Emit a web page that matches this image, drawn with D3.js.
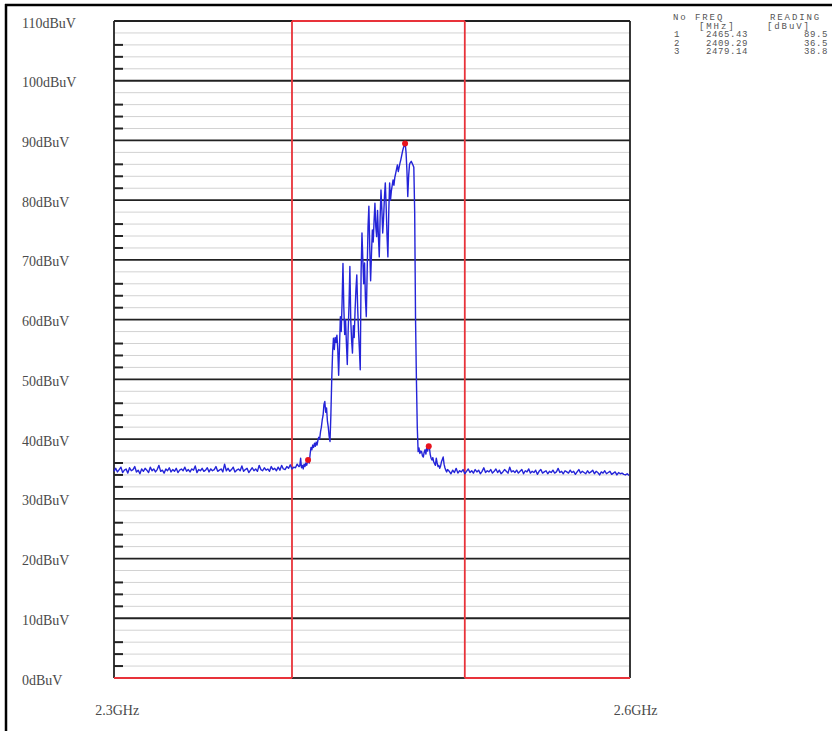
<!DOCTYPE html>
<html>
<head>
<meta charset="utf-8">
<script src="https://cdn.jsdelivr.net/npm/d3@7"></script>
<style>
  body { margin: 0; background: #fff; }
  svg { display: block; }
</style>
</head>
<body>
<div id="container"></div>
<script>
// y axis levels (dBuV) and labels
const levelTicks = [0, 10, 20, 30, 40, 50, 60, 70, 80, 90, 100, 110];
const freqLabels = [[2300, '2.3GHz'], [2600, '2.6GHz']];
// band edges drawn in red (MHz)
const bandEdges = [2400, 2500];

// marker table
const markerNo = [1, 2, 3];
const markerFreq = [2465.43, 2409.29, 2479.14];
const markerReading = [89.5, 36.5, 38.8];

// noise floor left of the burst, 1 MHz steps from 2297 MHz
const leftStart = 2297;
const leftFloor = [
  34.6,35.1,34.5,34.9,35.3,34.4,34.8,35.0,34.3,35.2,34.7,34.9,35.4,34.5,34.8,34.2,35.0,34.6,35.1,34.8,
  34.4,35.3,34.7,35.0,34.5,34.9,35.6,34.6,34.8,34.3,35.0,34.7,35.2,34.5,34.9,34.6,35.1,34.4,34.8,35.0,
  34.7,35.3,34.6,34.9,34.5,35.0,34.8,35.5,34.4,34.9,34.7,35.1,34.6,34.8,35.2,34.5,35.0,34.7,34.9,35.4,
  34.6,34.8,35.0,34.5,35.8,34.7,35.1,34.6,34.9,35.3,34.5,34.8,35.0,34.7,35.5,34.6,34.9,35.1,34.4,34.8,
  35.2,34.7,35.0,34.6,35.6,34.9,34.7,35.2,34.8,35.0,34.6,35.4,34.9,35.1,34.7,35.3,34.8,35.6,35.0,34.9,
  35.4,35.1,35.7,35.0,35.3,35.2,35.8,35.4
];

// the burst itself [MHz, dBuV]
const burst = [
  [2404.5,35.5],[2405,36.8],[2405.5,35.2],[2406,35.6],[2406.5,35.0],[2407,35.8],[2407.5,35.4],[2408,36.0],
  [2408.5,35.6],[2409,36.2],[2409.5,36.5],[2410,36.0],[2410.5,37.5],[2411,38.6],[2411.5,38.2],[2412,39.0],
  [2412.5,38.6],[2413,39.3],[2413.5,38.8],[2414,39.5],[2414.5,39.0],[2415,39.8],[2415.5,40.3],[2416,40.0],
  [2416.5,41.2],[2417,42.0],[2417.5,43.2],[2418,44.0],[2418.5,45.8],[2419,46.3],[2419.5,44.5],[2420,45.2],
  [2420.5,43.0],[2421,42.0],[2421.5,40.5],[2422,39.6],[2422.5,44.0],[2423,50.0],[2423.5,54.5],[2424,56.9],
  [2424.5,55.0],[2425,57.0],[2425.5,56.2],[2426,57.4],[2426.5,55.0],[2427,50.7],[2427.5,55.5],[2428,60.5],
  [2428.5,58.0],[2429,63.0],[2429.5,69.4],[2430,62.0],[2430.5,57.5],[2431,60.0],[2431.5,56.0],[2432,52.5],
  [2432.5,58.0],[2433,62.5],[2433.5,68.9],[2434,60.0],[2434.5,56.5],[2435,54.4],[2435.5,59.0],[2436,57.0],
  [2436.5,61.5],[2437,65.0],[2437.5,67.5],[2438,62.0],[2438.5,58.0],[2439,55.0],[2439.5,51.6],[2440,68.0],
  [2440.5,74.5],[2441,70.0],[2441.5,66.0],[2442,69.5],[2442.5,63.5],[2443,60.5],[2443.5,68.0],[2444,75.5],
  [2444.5,79.0],[2445,72.0],[2445.5,66.5],[2446,71.0],[2446.5,75.0],[2447,73.0],[2447.5,76.5],[2448,79.5],
  [2448.5,75.5],[2449,73.9],[2449.5,78.3],[2450,74.0],[2450.5,70.5],[2451,77.0],[2451.5,81.7],[2452,78.5],
  [2452.5,74.5],[2453,77.0],[2453.5,80.5],[2454,82.9],[2454.5,79.0],[2455,74.0],[2455.5,70.5],[2456,78.0],
  [2456.5,82.9],[2457,80.0],[2457.5,81.5],[2458,82.5],[2458.5,83.4],[2459,82.5],[2459.5,83.8],[2460,84.5],
  [2460.5,85.2],[2461,85.9],[2461.5,84.8],[2462,85.5],[2462.5,86.2],[2463,86.8],[2463.5,87.5],[2464,88.2],
  [2464.5,88.8],[2465,89.2],[2465.5,89.5],[2466,88.0],[2466.5,85.0],[2467,80.6],[2467.5,84.0],[2468,86.0],
  [2468.5,86.3],[2469,86.5],[2469.5,86.2],[2470,85.9],[2470.5,85.5],[2471,78.0],[2471.5,60.0],[2472,50.0],
  [2472.5,42.0],[2473,37.9],[2473.5,38.5],[2474,37.6],[2474.5,38.0],[2475,37.9],[2475.5,37.2],[2476,37.0],
  [2476.5,37.8],[2477,38.2],[2477.5,37.5],[2478,38.7],[2478.5,38.0],[2479,38.8],[2479.5,38.6],[2480,37.4],
  [2480.5,36.8],[2481,36.5],[2481.5,36.9],[2482,36.2],[2482.5,35.9],[2483,35.6],[2483.5,36.8],[2484,36.0],
  [2484.5,35.4],[2485,35.6],[2485.5,35.1],[2486,35.5],[2486.5,36.2],[2487,36.6],[2487.5,37.0],[2488,35.8],
  [2488.5,35.2],[2489,34.8],[2489.5,34.5],[2490,34.9]
];

// noise floor right of the burst, 1 MHz steps from 2491 MHz
const rightStart = 2491;
const rightFloor = [
  34.6,34.2,34.8,34.4,35.1,34.3,34.7,34.5,34.9,34.2,34.6,35.0,34.4,34.7,34.3,34.9,34.5,34.8,34.2,34.6,
  35.2,34.4,34.7,34.5,34.9,34.3,34.6,35.0,34.4,34.8,34.2,34.5,34.9,34.6,34.3,35.3,34.5,34.7,34.4,34.8,
  34.3,34.6,34.9,34.2,34.7,34.5,35.0,34.3,34.6,34.4,34.8,34.1,34.6,34.9,34.3,34.5,34.7,34.2,34.6,34.4,
  34.8,34.3,34.5,35.1,34.4,34.6,34.2,34.7,34.5,34.3,34.8,34.4,34.6,34.1,34.5,34.9,34.3,34.6,34.4,34.2,
  34.7,34.3,34.5,34.8,34.2,34.6,34.4,34.0,34.5,34.3,34.7,34.2,34.4,34.6,34.1,34.3,34.5,34.0,34.4,34.2,
  34.3,34.1,34.0,34.2,33.9
];

// chart dimensions
const width = 832;
const height = 731;
const plotLeft = 114, plotRight = 630, plotTop = 21, plotBottom = 678;
const sweep = [2297, 2595.6];

const svg = d3.select('#container')
  .append('svg')
  .attr('width', width)
  .attr('height', height);

const xScale = d3.scaleLinear().domain(sweep).range([plotLeft, plotRight]);
const yScale = d3.scaleLinear().domain([0, 110]).range([plotBottom, plotTop]);

// outer frame (left and top edges only are visible)
svg.append('line')
  .attr('x1', 6).attr('x2', 6).attr('y1', 4).attr('y2', height)
  .style('stroke', '#000').style('stroke-width', 2.5);
svg.append('line')
  .attr('x1', 5).attr('x2', width).attr('y1', 5).attr('y2', 5)
  .style('stroke', '#000').style('stroke-width', 2.5);

// minor grid every 2 dB
const minor = d3.range(2, 110, 2).filter(v => v % 10 !== 0);
svg.append('g')
  .selectAll('line')
  .data(minor)
  .enter()
  .append('line')
  .attr('x1', plotLeft).attr('x2', plotRight)
  .attr('y1', d => yScale(d)).attr('y2', d => yScale(d))
  .style('stroke', '#d2d2d2').style('stroke-width', 1);

// short ticks on the left edge
svg.append('g')
  .selectAll('line')
  .data(minor.filter(v => v % 10 !== 8))
  .enter()
  .append('line')
  .attr('x1', plotLeft).attr('x2', plotLeft + 9)
  .attr('y1', d => yScale(d)).attr('y2', d => yScale(d))
  .style('stroke', '#222').style('stroke-width', 2);

// major grid every 10 dB
svg.append('g')
  .selectAll('line')
  .data(levelTicks.filter(v => v > 0))
  .enter()
  .append('line')
  .attr('x1', plotLeft).attr('x2', plotRight)
  .attr('y1', d => yScale(d)).attr('y2', d => yScale(d))
  .style('stroke', '#222').style('stroke-width', 1.8);

// frame sides
svg.append('line')
  .attr('x1', plotLeft).attr('x2', plotLeft).attr('y1', plotTop).attr('y2', plotBottom)
  .style('stroke', '#222').style('stroke-width', 1.8);
svg.append('line')
  .attr('x1', plotRight).attr('x2', plotRight).attr('y1', plotTop).attr('y2', plotBottom)
  .style('stroke', '#222').style('stroke-width', 1.8);

// bottom edge: red outside the band, black inside
const bx0 = xScale(bandEdges[0]), bx1 = xScale(bandEdges[1]);
const red = '#e8333a';
svg.append('line')
  .attr('x1', plotLeft).attr('x2', bx0).attr('y1', plotBottom).attr('y2', plotBottom)
  .style('stroke', red).style('stroke-width', 1.8);
svg.append('line')
  .attr('x1', bx1).attr('x2', plotRight).attr('y1', plotBottom).attr('y2', plotBottom)
  .style('stroke', red).style('stroke-width', 1.8);
svg.append('line')
  .attr('x1', bx0).attr('x2', bx1).attr('y1', plotBottom).attr('y2', plotBottom)
  .style('stroke', '#333').style('stroke-width', 1.8);
// top edge inside the band is red
svg.append('line')
  .attr('x1', bx0).attr('x2', bx1).attr('y1', plotTop).attr('y2', plotTop)
  .style('stroke', red).style('stroke-width', 1.8);

// band edge verticals
svg.append('g')
  .selectAll('line')
  .data(bandEdges)
  .enter()
  .append('line')
  .attr('x1', d => xScale(d)).attr('x2', d => xScale(d))
  .attr('y1', plotTop).attr('y2', plotBottom)
  .style('stroke', red).style('stroke-width', 1.8);

// y labels
svg.append('g')
  .selectAll('text')
  .data(levelTicks)
  .enter()
  .append('text')
  .attr('x', 22)
  .attr('y', d => yScale(d) + 6.5)
  .style('font-family', '"Liberation Serif", "Times New Roman", serif')
  .style('font-size', '14px')
  .style('fill', '#4a4a4a')
  .text(d => d + 'dBuV');

// x labels
svg.append('g')
  .selectAll('text')
  .data(freqLabels)
  .enter()
  .append('text')
  .attr('x', d => xScale(d[0]) - 2)
  .attr('y', 715)
  .attr('text-anchor', 'middle')
  .style('font-family', '"Liberation Serif", "Times New Roman", serif')
  .style('font-size', '14px')
  .style('fill', '#4a4a4a')
  .text(d => d[1]);

// trace
const trace = leftFloor.map((v, i) => [leftStart + i, v]).filter(d => d[0] < burst[0][0])
  .concat(burst)
  .concat(rightFloor.map((v, i) => [rightStart + i, v]).filter(d => d[0] <= sweep[1]));

const line = d3.line()
  .x(d => xScale(d[0]))
  .y(d => yScale(d[1]));

svg.append('path')
  .datum(trace)
  .attr('d', line)
  .style('fill', 'none')
  .style('stroke', '#2424d8')
  .style('stroke-width', 1.4)
  .style('stroke-linejoin', 'round');

// marker dots
svg.append('g')
  .selectAll('circle')
  .data(markerNo)
  .enter()
  .append('circle')
  .attr('cx', (d, i) => xScale(markerFreq[i]))
  .attr('cy', (d, i) => yScale(markerReading[i]))
  .attr('r', 3)
  .style('fill', '#e8141e');

// marker table
const mono = '"Liberation Mono", "Courier New", monospace';
const table = svg.append('g')
  .style('font-family', mono)
  .style('font-size', '9px')
  .style('fill', '#555');

const head = table.append('g').style('letter-spacing', '1.9px');
head.append('text').attr('x', 673).attr('y', 20).text('No');
head.append('text').attr('x', 695).attr('y', 20).text('FREQ');
head.append('text').attr('x', 770).attr('y', 20).text('READING');
head.append('text').attr('x', 699).attr('y', 28.6).text('[MHz]');
head.append('text').attr('x', 767).attr('y', 28.6).text('[dBuV]');

const rows = table.append('g').style('letter-spacing', '0.6px');
markerNo.forEach((n, i) => {
  const y = 37.2 + i * 8.6;
  rows.append('text').attr('x', 674).attr('y', y).text(n);
  rows.append('text').attr('x', 706).attr('y', y).text(markerFreq[i].toFixed(2));
  rows.append('text').attr('x', 828).attr('y', y).attr('text-anchor', 'end').text(markerReading[i].toFixed(1));
});
</script>
</body>
</html>
